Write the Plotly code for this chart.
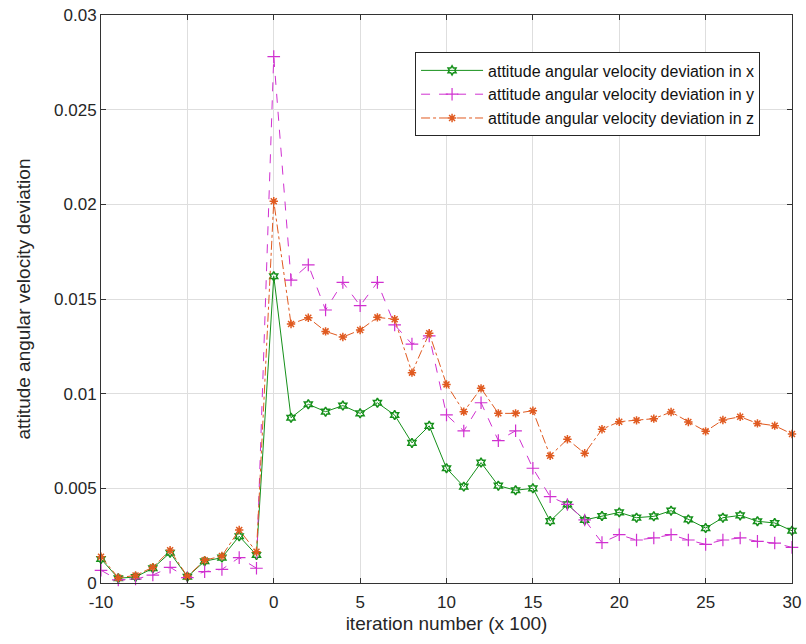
import plotly.graph_objects as go

iterations = list(range(-10, 31))

dev_x = [0.00127, 0.00025, 0.00032, 0.00078, 0.0016, 0.00033, 0.00115, 0.00134, 0.00247, 0.00148,
         0.0162, 0.00873, 0.00944, 0.00905, 0.00937, 0.00896, 0.00952, 0.00887, 0.0074, 0.0083,
         0.00606, 0.00509, 0.00636, 0.00514, 0.0049, 0.0050, 0.00327, 0.00415, 0.00333, 0.00354,
         0.00373, 0.00345, 0.00352, 0.00382, 0.00336, 0.0029, 0.00345, 0.00357, 0.00326, 0.00317,
         0.00276]

dev_y = [0.00067, 0.00016, 0.00021, 0.00042, 0.00083, 0.00028, 0.0006, 0.00072, 0.00134, 0.00078,
         0.0278, 0.0160, 0.0168, 0.01442, 0.01588, 0.01465, 0.01588, 0.01363, 0.01262, 0.01305,
         0.00888, 0.00803, 0.00952, 0.00752, 0.00804, 0.00606, 0.00456, 0.00415, 0.00333, 0.00213,
         0.00255, 0.00227, 0.00238, 0.00255, 0.00227, 0.00204, 0.00227, 0.00238, 0.0022, 0.00211,
         0.00188]

dev_z = [0.00139, 0.00028, 0.0004, 0.00083, 0.00173, 0.00035, 0.0012, 0.00143, 0.0028, 0.00165,
         0.02016, 0.01368, 0.01401, 0.01329, 0.01299, 0.01336, 0.01403, 0.01393, 0.01111, 0.01319,
         0.01049, 0.00905, 0.01028, 0.00896, 0.00896, 0.0091, 0.00672, 0.00759, 0.00685, 0.00812,
         0.00852, 0.00859, 0.00868, 0.00903, 0.0085, 0.00801, 0.00861, 0.00878, 0.00843, 0.00831,
         0.00787]

series_names = ["attitude angular velocity deviation in x",
                "attitude angular velocity deviation in y",
                "attitude angular velocity deviation in z"]

x_ticks = [-10, -5, 0, 5, 10, 15, 20, 25, 30]
x_tick_text = ["-10", "-5", "0", "5", "10", "15", "20", "25", "30"]
y_ticks = [0, 0.005, 0.01, 0.015, 0.02, 0.025, 0.03]
y_tick_text = ["0", "0.005", "0.01", "0.015", "0.02", "0.025", "0.03"]

FONT = "Liberation Sans, Arial, Helvetica, sans-serif"

fig = go.Figure()
fig.add_trace(go.Scatter(
    x=iterations, y=dev_x, name=series_names[0], mode="lines+markers", cliponaxis=False,
    line=dict(color="#15901a", width=1, dash="solid"),
    marker=dict(symbol="hexagram-open", size=7, color="#15901a", line=dict(width=1.5, color="#15901a")),
))
fig.add_trace(go.Scatter(
    x=iterations, y=dev_y, name=series_names[1], mode="lines+markers", cliponaxis=False,
    line=dict(color="#d030d0", width=1, dash="dash"),
    marker=dict(symbol="cross-thin-open", size=9, color="#d030d0", line=dict(width=1.2, color="#d030d0")),
))
fig.add_trace(go.Scatter(
    x=iterations, y=dev_z, name=series_names[2], mode="lines+markers", cliponaxis=False,
    line=dict(color="#e05a20", width=1, dash="dashdot"),
    marker=dict(symbol="asterisk-open", size=7, color="#e05a20", line=dict(width=1.5, color="#e05a20")),
))

axis_common = dict(
    showgrid=True, gridcolor="#dedede", gridwidth=1,
    showline=True, linecolor="#333333", linewidth=1, mirror="ticks",
    ticks="inside", ticklen=5, tickcolor="#333333",
    zeroline=False, automargin=False, ticklabeloverflow="allow",
    tickfont=dict(family=FONT, size=17, color="#262626"),
)

fig.update_layout(
    width=806, height=644,
    paper_bgcolor="white", plot_bgcolor="white",
    margin=dict(l=101, r=14, t=15, b=61),
    font=dict(family=FONT, color="#262626"),
    xaxis=dict(range=[-10, 30], tickvals=x_ticks, ticktext=x_tick_text, ticklabelstandoff=4,
               title=dict(text="iteration number (x 100)", font=dict(family=FONT, size=19), standoff=5),
               **axis_common),
    yaxis=dict(range=[0, 0.03], tickvals=y_ticks, ticktext=y_tick_text, ticklabelstandoff=0,
               title=dict(text="attitude angular velocity deviation", font=dict(family=FONT, size=19), standoff=18),
               **axis_common),
    legend=dict(x=0.4545, y=0.934, xanchor="left", yanchor="top",
                bgcolor="white", bordercolor="#262626", borderwidth=1,
                font=dict(family=FONT, size=16, color="#111111"),
                tracegroupgap=0, itemwidth=62),
    showlegend=True,
)

# remove the default page margin so the figure fills the window exactly
fig.write_html("out.html", config={"displayModeBar": False},
               post_script="document.body.style.margin='0';document.body.style.overflow='hidden';")
